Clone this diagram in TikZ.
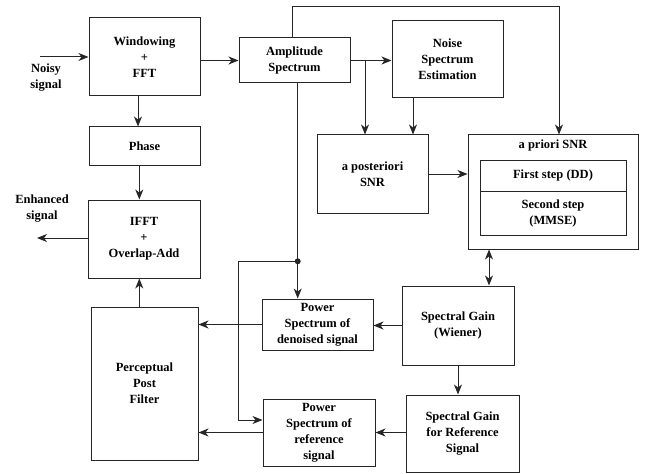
\documentclass[tikz,border=0pt]{standalone}
\usepackage{fontspec}
\setmainfont{Liberation Serif}
\usetikzlibrary{arrows.meta}
\begin{document}
\begin{tikzpicture}[x=1pt,y=-1pt,
  txt/.style={align=center, font=\bfseries\fontsize{12.5}{16}\selectfont},
  box/.style={txt, draw=black!85, line width=1pt, inner sep=0pt},
  conn/.style={draw=black!85, line width=1pt},
  tip/.tip={Stealth[length=10pt,width=8pt,inset=3pt]},
  arr/.style={conn, -tip},
  darr/.style={conn, tip-tip}]
\useasboundingbox (0,0) rectangle (652,473);

% boxes
\node[box, minimum width=111pt, minimum height=78pt] (win) at (144.5,57) {Windowing\\+\\FFT};
\node[box, minimum width=111pt, minimum height=45pt] (amp) at (294.5,60.5) {Amplitude\\Spectrum};
\node[box, minimum width=111pt, minimum height=38pt] (phase) at (144.5,146) {Phase};
\node[box, minimum width=112pt, minimum height=78pt] (ifft) at (144,239) {IFFT\\+\\Overlap-Add};
\node[box, minimum width=107pt, minimum height=153pt] (perc) at (144.5,383.5) {Perceptual\\Post\\Filter};
\node[box, minimum width=111pt, minimum height=51pt] (pden) at (317.5,324.5) {Power\\Spectrum of\\denoised signal};
\node[box, minimum width=112pt, minimum height=67pt] (pref) at (319,432.5) {Power\\Spectrum of\\reference\\signal};
\node[box, minimum width=111pt, minimum height=77pt] (noise) at (447.5,59.5) {Noise\\Spectrum\\Estimation};
\node[box, minimum width=111pt, minimum height=78pt] (post) at (372.5,174) {a posteriori\\SNR};
\node[box, minimum width=170pt, minimum height=114pt] (prio) at (553,192) {};
\node[txt] (priot) at (553,145) {a priori SNR};
\node[box, minimum width=146pt, minimum height=31pt] (first) at (553,175.5) {First step (DD)};
\node[box, minimum width=146pt, minimum height=44pt] (second) at (553,213) {Second step\\(MMSE)};
\node[box, minimum width=112pt, minimum height=79pt] (sgw) at (458,325.5) {Spectral Gain\\(Wiener)};
\node[box, minimum width=113pt, minimum height=77pt] (sgr) at (462.5,433.5) {Spectral Gain\\for Reference\\Signal};

% labels
\node[txt] (noisy) at (46,77.5) {Noisy\\signal};
\node[txt] (enh) at (42,209) {Enhanced\\signal};

% helper coordinates
\coordinate (nin) at (40,57);
\coordinate (eout) at (37,238);
\coordinate (br1) at (365,60.5);
\coordinate (ns) at (413,0);
\coordinate (tl) at (292,7);
\coordinate (tr) at (559,7);
\coordinate (dot) at (297.7,261.3);
\coordinate (lc) at (238,261.3);
\coordinate (lb) at (238,420);
\coordinate (dx) at (489,0);
\coordinate (cx1) at (138,0);
\coordinate (cx2) at (139.3,0);

% connectors
\draw[arr] (nin) -- (win.west |- nin);
\draw[arr] (win.east |- amp.west) -- (amp.west);
\draw[arr] (win.south -| cx1) -- (phase.north -| cx1);
\draw[arr] (phase.south -| cx2) -- (ifft.north -| cx2);
\draw[arr] (ifft.west |- eout) -- (eout);
\draw[arr] (perc.north -| cx2) -- (ifft.south -| cx2);
\draw[arr] (amp.east) -- (noise.west |- amp.east);
\draw[arr] (br1) -- (br1 |- post.north);
\draw[arr] (noise.south -| ns) -- (post.north -| ns);
\draw[arr] (post.east) -- (prio.west |- post.east);
\draw[arr] (amp.north -| tl) -- (tl) -- (tr) -- (prio.north -| tr);
\draw[darr] (prio.south -| dx) -- (sgw.north -| dx);
\draw[arr] (sgw.south) -- (sgw.south |- sgr.north);
\draw[arr] (sgw.west) -- (pden.east |- sgw.west);
\draw[arr] (sgr.west |- pref.east) -- (pref.east);
\draw[arr] (pden.west) -- (perc.east |- pden.west);
\draw[arr] (pref.west) -- (perc.east |- pref.west);
\draw[conn] (amp.south -| dot) -- (dot);
\draw[arr] (dot) -- (dot |- pden.north);
\draw[arr] (dot) -- (lc) -- (lb) -- (pref.west |- lb);
\fill[black!85] (dot) circle (3pt);
\end{tikzpicture}
\end{document}
